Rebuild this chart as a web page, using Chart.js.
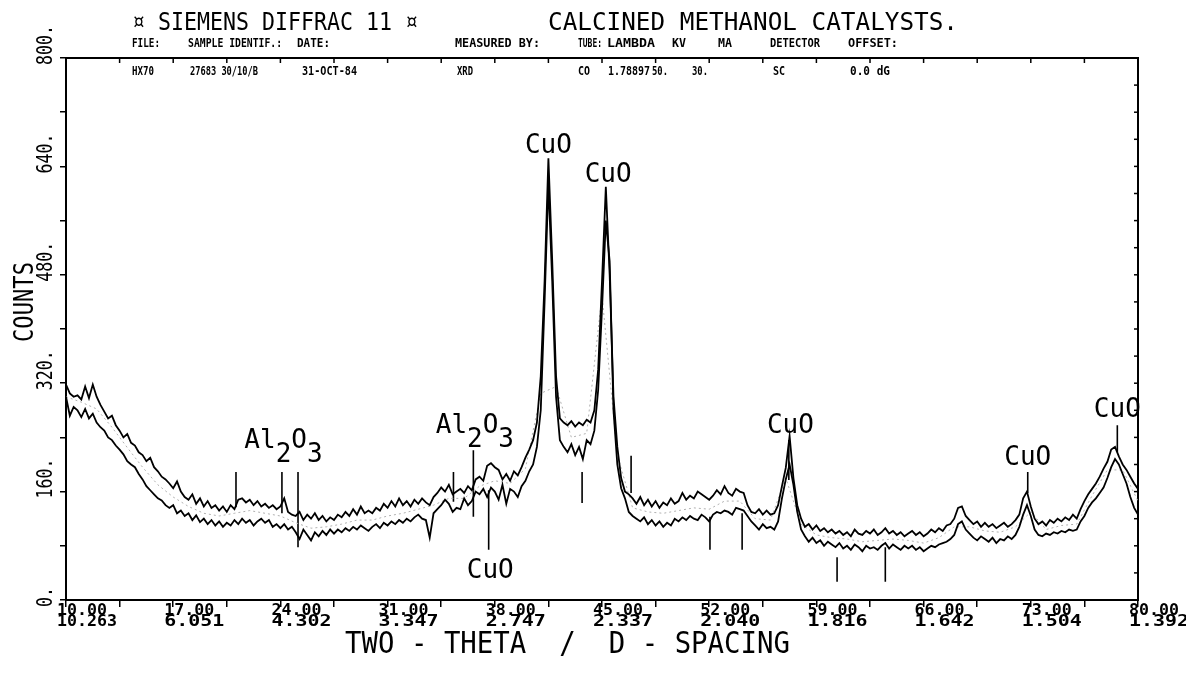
<!DOCTYPE html>
<html>
<head>
<meta charset="utf-8">
<script src="https://cdn.jsdelivr.net/npm/chart.js@4.4.1/dist/chart.umd.min.js"></script>
<style>
  html, body { margin: 0; padding: 0; background: #fff; }
  #wrap { width: 1186px; height: 675px; }
</style>
</head>
<body>
<div id="wrap"><canvas id="xrdchart" width="1186" height="675"></canvas></div>
<script>
// scan runs 10.00 .. 80.00 deg two-theta, one reading every 0.25 deg
var thetaStart = 10;
var thetaStep = 0.25;

var upperCounts = [
    318,305,300,302,296,315,298,318,300,288,278,268,272,258,250,240,245,232,228,218,
    214,205,210,196,190,182,178,172,165,175,160,152,148,156,142,150,138,146,136,140,
    132,138,130,140,134,148,150,144,148,140,146,138,142,136,140,134,138,150,130,126,
    124,130,118,126,120,128,118,124,116,122,118,126,122,130,124,134,126,138,128,132,
    128,136,132,142,136,146,138,150,140,146,138,148,142,150,144,140,152,158,166,160,
    170,156,160,164,158,168,162,178,182,176,198,202,196,192,178,186,176,190,184,196,
    210,222,236,262,330,470,652,500,330,268,262,258,264,256,262,258,266,262,280,340,
    470,610,480,300,226,180,160,156,150,142,152,140,148,138,146,136,144,140,150,142,
    146,158,148,154,150,160,156,152,148,154,162,156,168,158,154,164,160,158,140,130,
    128,134,126,132,126,128,140,168,195,242,180,140,120,108,112,104,110,102,106,100,
    104,98,102,96,100,94,104,98,96,102,98,104,96,100,106,98,102,96,100,94,
    98,102,96,100,94,98,104,100,106,102,110,112,120,136,138,124,118,112,116,108,
    114,108,112,106,110,114,108,112,118,126,150,160,138,120,112,116,110,118,114,120,
    116,122,118,126,120,134,146,156,164,172,182,194,204,222,226,212,200,192,182,172,
    164
];

var lowerCounts = [
    300,272,285,280,270,282,268,275,262,255,250,240,236,228,222,215,205,200,196,186,
    178,168,162,156,150,147,140,136,140,128,132,124,128,118,125,115,120,112,118,110,
    116,108,114,110,118,112,120,114,118,110,116,120,114,118,108,112,106,112,104,108,
    100,90,104,96,88,100,94,102,96,104,98,104,100,106,102,108,104,110,106,102,
    108,112,106,114,110,116,112,118,114,120,116,122,126,120,118,92,128,134,140,148,
    142,130,136,134,150,140,146,160,156,164,152,166,160,148,170,142,164,160,152,168,
    176,190,200,226,280,440,615,470,300,236,226,218,230,214,226,208,236,230,250,310,
    430,560,500,280,200,165,150,130,124,120,116,122,112,118,110,116,108,114,110,120,
    116,122,118,124,120,118,126,122,116,126,130,128,132,130,126,136,134,132,124,116,
    110,104,112,106,108,104,116,150,178,200,170,130,104,94,86,92,84,88,80,86,
    82,78,84,76,80,74,82,78,72,80,76,78,74,80,84,76,82,78,74,80,
    76,80,74,78,72,76,80,78,82,84,86,90,96,112,116,104,98,92,88,94,
    90,86,92,84,90,88,94,90,96,108,126,140,124,104,96,94,98,96,100,98,
    102,100,104,102,104,116,124,136,144,150,158,166,180,196,208,200,186,172,152,136,
    126
];

// dotted mean trace, one value per degree
var meanCounts = [
    300,292,282,255,225,196,170,152,138,128,124,128,132,128,124,114,106,108,112,118,
    118,124,128,134,140,150,150,168,176,172,194,305,315,240,246,450,214,136,130,128,
    132,136,134,146,146,120,118,180,112,96,92,90,86,88,90,88,84,92,108,108,
    102,100,108,130,104,110,112,154,192,192,146
];

var countTicks = [0, 160, 320, 480, 640, 800];
var countTickLabels = ['0.', '160.', '320.', '480.', '640.', '800.'];
var twoThetaTicks = ['10.00', '17.00', '24.00', '31.00', '38.00', '45.00', '52.00', '59.00', '66.00', '73.00', '80.00'];
var dSpacingTicks = ['10.263', '6.051', '4.302', '3.347', '2.747', '2.337', '2.040', '1.816', '1.642', '1.504', '1.392'];

// reference line markers: position and vertical extent in counts
var stickTheta  = [21.1, 24.1, 25.15, 35.3, 36.6, 37.6, 43.7, 46.9, 52.05, 54.15, 57.2, 60.35, 63.5, 72.8, 78.65];
var stickTop    = [189, 189, 189, 189, 221, 162, 189, 213, 123, 128, 236, 63, 78, 189, 258];
var stickBottom = [137, 128, 78, 145, 123, 74, 143, 158, 74, 74, 177, 27, 27, 158, 218];

// phase labels
var phaseNames  = ['CuO', 'CuO', 'CuO', 'CuO', 'CuO', 'CuO', 'Al2O3', 'Al2O3'];
var phaseTheta  = [41.5, 45.4, 37.7, 57.3, 72.8, 78.65, 24.2, 36.7];
var phaseCounts = [660, 617, 32, 246, 199, 270, 224, 246];

var titleLeft = '\u00a4 SIEMENS DIFFRAC 11 \u00a4';
var titleRight = 'CALCINED METHANOL CATALYSTS.';
var headerNames = ['FILE:', 'SAMPLE IDENTIF.:', 'DATE:', 'MEASURED BY:', 'TUBE:', 'LAMBDA', 'KV', 'MA', 'DETECTOR', 'OFFSET:'];
var headerValues = ['HX70', '27683 30/10/B', '31-OCT-84', 'XRD', 'CO', '1.78897', '50.', '30.', 'SC', '0.0 dG'];

function toPoints(counts, start, step) {
    return counts.map(function (c, i) { return { x: start + i * step, y: c }; });
}

var stickPoints = [];
stickTheta.forEach(function (t, i) {
    stickPoints.push({ x: t, y: stickTop[i] });
    stickPoints.push({ x: t, y: stickBottom[i] });
    stickPoints.push({ x: t, y: null });
});

var monoFont = '"DejaVu Sans Mono", monospace';

function drawText(ctx, text, x, y, size, width, opts) {
    opts = opts || {};
    ctx.save();
    ctx.font = (opts.bold ? 'bold ' : '') + size + 'px ' + monoFont;
    ctx.fillStyle = '#000';
    ctx.textBaseline = 'alphabetic';
    ctx.textAlign = 'left';
    var w = ctx.measureText(text).width;
    var sx = width ? width / w : 1;
    ctx.translate(x, y);
    if (opts.rotate) ctx.rotate(opts.rotate);
    ctx.scale(sx, 1);
    ctx.fillText(text, 0, 0);
    ctx.restore();
}

var plotterText = {
    id: 'plotterText',
    afterDraw: function (chart) {
        var ctx = chart.ctx;
        var xs = chart.scales.x, ys = chart.scales.y;
        var area = chart.chartArea;

        // inward tick marks on the top and right frame
        ctx.save();
        ctx.strokeStyle = '#000';
        ctx.lineWidth = 1.5;
        chart.scales.x2.ticks.forEach(function (t) {
            var px = xs.getPixelForValue(t.value);
            ctx.beginPath(); ctx.moveTo(px, area.top); ctx.lineTo(px, area.top + 5); ctx.stroke();
        });
        chart.scales.y2.ticks.forEach(function (t) {
            var py = ys.getPixelForValue(t.value);
            ctx.beginPath(); ctx.moveTo(area.right, py); ctx.lineTo(area.right - 4, py); ctx.stroke();
        });
        ctx.restore();

        // header block
        drawText(ctx, titleLeft, 132, 30, 25, 286);
        drawText(ctx, titleRight, 548, 30, 25, 410);
        var nameX = [132, 188, 297, 455, 578, 607, 672, 718, 770, 848];
        var nameW = [28, 94, 33, 85, 24, 48, 14, 14, 50, 50];
        headerNames.forEach(function (s, i) { drawText(ctx, s, nameX[i], 47, 12, nameW[i], { bold: true }); });
        var valX = [132, 190, 302, 457, 578, 608, 652, 692, 773, 850];
        var valW = [22, 68, 55, 16, 12, 42, 16, 16, 12, 40];
        headerValues.forEach(function (s, i) { drawText(ctx, s, valX[i], 75, 12, valW[i], { bold: true }); });

        // counts axis
        countTicks.forEach(function (v, i) {
            var py = ys.getPixelForValue(v);
            var lbl = countTickLabels[i];
            drawText(ctx, lbl, 52, py + 7, 22, lbl.length * 10, { rotate: -Math.PI / 2 });
        });
        drawText(ctx, 'COUNTS', 33, 342, 27, 80, { rotate: -Math.PI / 2 });

        // two-theta / d-spacing axis
        twoThetaTicks.forEach(function (s, i) {
            var px = xs.getPixelForValue(parseFloat(s));
            drawText(ctx, s, px - 9, area.bottom + 15, 16, 50, { bold: true });
            drawText(ctx, dSpacingTicks[i], px - 9, area.bottom + 26, 16, 60, { bold: true });
        });
        drawText(ctx, 'TWO - THETA  /  D - SPACING', 345, 653, 30, 445);

        // phase labels, digits set as subscripts
        phaseNames.forEach(function (name, i) {
            var px = xs.getPixelForValue(phaseTheta[i]);
            var py = ys.getPixelForValue(phaseCounts[i]);
            ctx.save();
            ctx.font = '26px ' + monoFont;
            ctx.fillStyle = '#000';
            var adv = ctx.measureText('M').width;
            var x0 = px - adv * name.length / 2;
            for (var k = 0; k < name.length; k++) {
                var ch = name[k];
                var sub = /[0-9]/.test(ch) ? 14 : 0;
                ctx.fillText(ch, x0 + k * adv, py + sub);
            }
            ctx.restore();
        });
    }
};

var ctx1 = document.getElementById('xrdchart').getContext('2d');

var xrdchart = new Chart(ctx1, {
    type: 'line',
    data: {
        datasets: [
            {
                label: 'scan A',
                data: toPoints(upperCounts, thetaStart, thetaStep),
                borderColor: '#000',
                borderWidth: 1.8,
                pointRadius: 0,
                xAxisID: 'x', yAxisID: 'y'
            },
            {
                label: 'scan B',
                data: toPoints(lowerCounts, thetaStart, thetaStep),
                borderColor: '#000',
                borderWidth: 1.8,
                pointRadius: 0,
                xAxisID: 'x', yAxisID: 'y'
            },
            {
                label: 'mean',
                data: toPoints(meanCounts, thetaStart, 1),
                borderColor: '#b0b0b0',
                borderDash: [2, 3],
                borderWidth: 1,
                pointRadius: 0,
                xAxisID: 'x', yAxisID: 'y'
            },
            {
                label: 'markers',
                data: stickPoints,
                borderColor: '#000',
                borderWidth: 1.6,
                pointRadius: 0,
                spanGaps: false,
                xAxisID: 'x', yAxisID: 'y'
            }
        ]
    },
    options: {
        responsive: false,
        animation: false,
        devicePixelRatio: 1,
        layout: { padding: 0 },
        plugins: { legend: { display: false }, tooltip: { enabled: false } },
        scales: {
            x: {
                type: 'linear', position: 'bottom', min: 10, max: 80,
                ticks: { display: false, stepSize: 3.5 },
                grid: { drawOnChartArea: false, drawTicks: true, tickLength: 7, color: '#000', lineWidth: 1.5 },
                border: { color: '#000', width: 2 },
                afterFit: function (s) { s.height = 75; }
            },
            x2: {
                type: 'linear', position: 'top', min: 10, max: 80,
                ticks: { display: false, stepSize: 3.5 },
                grid: { display: false },
                border: { color: '#000', width: 2 },
                afterFit: function (s) { s.height = 58; }
            },
            y: {
                type: 'linear', position: 'left', min: 0, max: 800,
                ticks: { display: false, stepSize: 80 },
                grid: { drawOnChartArea: false, drawTicks: true, tickLength: 6, color: '#000', lineWidth: 1.5 },
                border: { color: '#000', width: 2 },
                afterFit: function (s) { s.width = 66; }
            },
            y2: {
                type: 'linear', position: 'right', min: 0, max: 800,
                ticks: { display: false, stepSize: 40 },
                grid: { display: false },
                border: { color: '#000', width: 2 },
                afterFit: function (s) { s.width = 48; }
            }
        }
    },
    plugins: [plotterText]
});
</script>
</body>
</html>
